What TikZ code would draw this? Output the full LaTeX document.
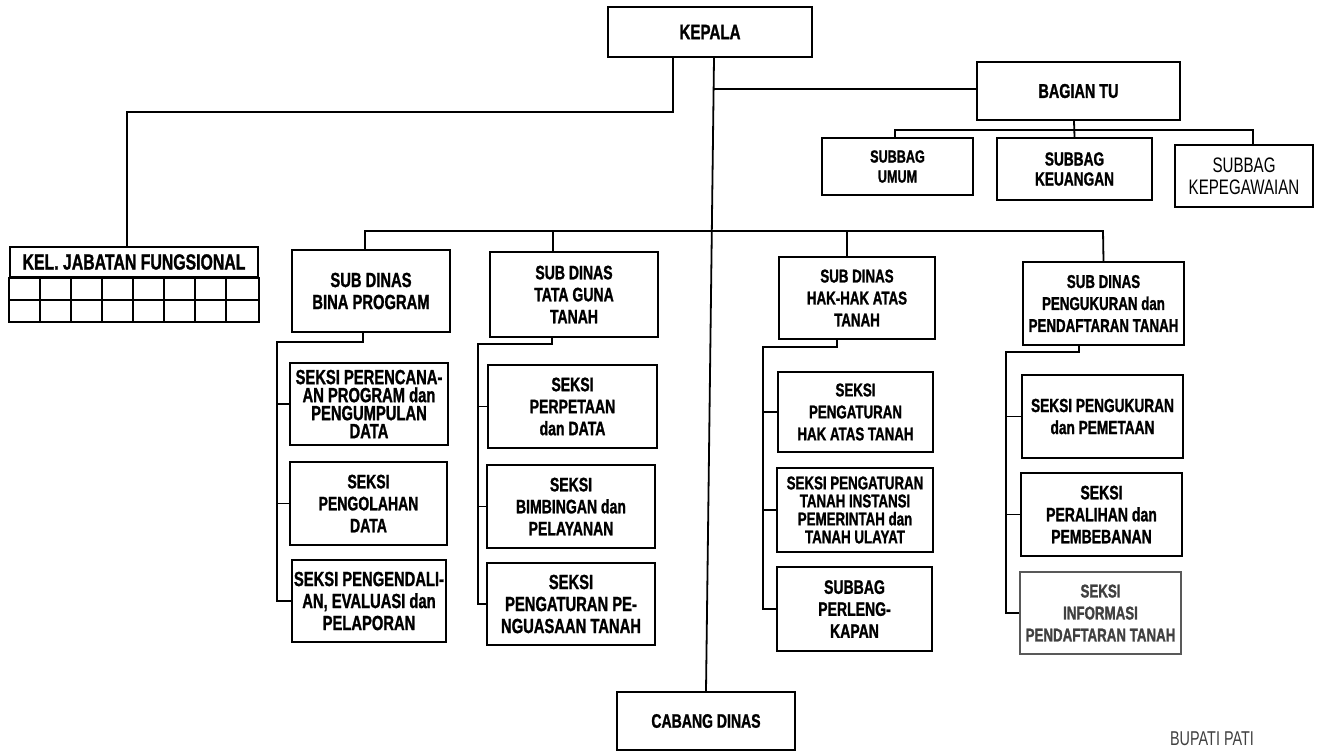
\documentclass[tikz,border=0pt]{standalone}
\usepackage{fontspec}
\setmainfont{Liberation Sans}[FakeStretch=0.72, BoldFeatures={FakeBold=1.2}]
\usetikzlibrary{calc}

% type sizes used in the chart
\newcommand\orgsize[2]{\bfseries\fontsize{#1}{#2}\selectfont}

\tikzset{
  box/.style={draw, line width=2.2pt, fill=white, align=center, inner sep=1pt, font=\orgsize{19.5}{22}},
  bigtext/.style={font=\orgsize{20.5}{18}},
  bigtextloose/.style={font=\orgsize{20.5}{22}},
  smalltext/.style={font=\orgsize{18.5}{22}},
  fourline/.style={font=\orgsize{18.5}{18}},
  plainbox/.style={line width=1.6pt, font=\mdseries\fontsize{21}{22}\selectfont},
  fadedbox/.style={line width=1.4pt, draw=black!65, text=black!75},
  conn/.style={line width=1.8pt, line join=miter},
}

% box given by its corners: [style] name x1 y1 x2 y2 text
\newcommand\orgbox[7][]{%
  \pgfmathsetmacro\obcx{(#3+#5)/2}%
  \pgfmathsetmacro\obcy{(#4+#6)/2}%
  \pgfmathsetmacro\obw{#5-#3}%
  \pgfmathsetmacro\obh{#6-#4}%
  \node[box, minimum width=\obw pt, minimum height=\obh pt, #1] (#2) at (\obcx,\obcy) {#7};}

\begin{document}
\begin{tikzpicture}[x=1pt, y=-1pt]
\useasboundingbox (0,0) rectangle (1322,753);

% --- top level ---
\orgbox[font=\orgsize{21}{22}]{kepala}{608}{7}{812}{57}{KEPALA}
\orgbox[font=\orgsize{20}{22}]{bagian}{977}{62}{1180}{120}{BAGIAN TU}
\orgbox[font=\orgsize{17.5}{20}]{umum}{822}{138}{973}{195}{SUBBAG\\UMUM}
\orgbox[font=\orgsize{19}{20}]{keuangan}{997}{138}{1152}{200}{SUBBAG\\KEUANGAN}
\orgbox[plainbox]{kepeg}{1175}{145}{1313}{207}{SUBBAG\\KEPEGAWAIAN}

% --- functional group with its grid ---
\orgbox[font=\orgsize{22}{22}]{kel}{10}{247}{258}{277}{KEL. JABATAN FUNGSIONAL}
\draw[line width=2pt] (kel.south west) rectangle ($(kel.south east)+(0,44)$);
\draw[line width=1.8pt] ($(kel.south west)+(0,22)$) -- ($(kel.south east)+(0,22)$);
\foreach \k in {1,...,7}
  \draw[line width=1.8pt] ($(kel.south west)+(31*\k,0)$) -- ++(0,44);

% --- sub dinas heads ---
\orgbox[bigtextloose]{bina}{292}{250}{450}{332}{SUB DINAS\\BINA PROGRAM}
\orgbox{tata}{490}{252}{658}{337}{SUB DINAS\\TATA GUNA\\TANAH}
\orgbox[smalltext]{hak}{779}{257}{935}{339}{SUB DINAS\\HAK-HAK ATAS\\TANAH}
\orgbox[smalltext]{peng}{1023}{262}{1184}{345}{SUB DINAS\\PENGUKURAN dan\\PENDAFTARAN TANAH}

% --- sections under Bina Program ---
\orgbox[bigtext]{bp1}{290}{363}{448}{445}{SEKSI PERENCANA-\\AN PROGRAM dan\\PENGUMPULAN\\DATA}
\orgbox{bp2}{290}{462}{447}{545}{SEKSI\\PENGOLAHAN\\DATA}
\orgbox[bigtextloose]{bp3}{292}{560}{446}{642}{SEKSI PENGENDALI-\\AN, EVALUASI dan\\PELAPORAN}

% --- sections under Tata Guna Tanah ---
\orgbox{tg1}{488}{365}{657}{448}{SEKSI\\PERPETAAN\\dan DATA}
\orgbox{tg2}{487}{465}{655}{548}{SEKSI\\BIMBINGAN dan\\PELAYANAN}
\orgbox[bigtextloose]{tg3}{487}{563}{655}{645}{SEKSI\\PENGATURAN PE-\\NGUASAAN TANAH}

% --- sections under Hak-Hak Atas Tanah ---
\orgbox[smalltext]{hk1}{778}{372}{933}{452}{SEKSI\\PENGATURAN\\HAK ATAS TANAH}
\orgbox[fourline]{hk2}{777}{468}{933}{552}{SEKSI PENGATURAN\\TANAH INSTANSI\\PEMERINTAH dan\\TANAH ULAYAT}
\orgbox{hk3}{777}{567}{932}{651}{SUBBAG\\PERLENG-\\KAPAN}

% --- sections under Pengukuran dan Pendaftaran Tanah ---
\orgbox[font=\orgsize{19}{22}]{pk1}{1022}{375}{1183}{458}{SEKSI PENGUKURAN\\dan PEMETAAN}
\orgbox{pk2}{1021}{473}{1182}{556}{SEKSI\\PERALIHAN dan\\PEMBEBANAN}
\orgbox[fadedbox, smalltext]{pk3}{1020}{572}{1181}{654}{SEKSI\\INFORMASI\\PENDAFTARAN TANAH}

% --- branch office ---
\orgbox{cabang}{617}{692}{795}{750}{CABANG DINAS}

% --- connectors ---
\draw[conn] (kepala.south -| 673,0) -- (673,112) -| (kel.north -| 127,0);
\draw[conn] (kepala.south -| 714,0) -- (cabang.north);
\coordinate (tujunction) at (713.5,89);
\draw[conn] (tujunction) -- (bagian.west |- tujunction);

\draw[conn] (bagian.south -| 1074,0) -- (keuangan.north);
\draw[conn] (umum.north -| 895,0) -- (895,130) -- (1253,130) -- (kepeg.north -| 1253,0);

\draw[conn] (bina.north -| 365,0) -- (365,231) -- (1103,231) -- (peng.north);
\draw[conn] (553,231) -- (tata.north -| 553,0);
\draw[conn] (847,231) -- (hak.north -| 847,0);

\draw[conn] (bina.south -| 363,0) -- (363,342) -| (277,0 |- bp3.west) -- (bp3.west);
\draw[conn] (277,0 |- bp1.west) -- (bp1.west);
\draw[conn] (277,0 |- bp2.west) -- (bp2.west);

\draw[conn] (tata.south -| 552,0) -- (552,344) -| (478,0 |- tg3.west) -- (tg3.west);
\draw[conn] (478,0 |- tg1.west) -- (tg1.west);
\draw[conn] (478,0 |- tg2.west) -- (tg2.west);

\draw[conn] (hak.south -| 837,0) -- (837,347) -| (763,0 |- hk3.west) -- (hk3.west);
\draw[conn] (763,0 |- hk1.west) -- (hk1.west);
\draw[conn] (763,0 |- hk2.west) -- (hk2.west);

\draw[conn] (peng.south -| 1079,0) -- (1079,352) -| (1006,0 |- pk3.west) -- (pk3.west);
\draw[conn] (1006,0 |- pk1.west) -- (pk1.west);
\draw[conn] (1006,0 |- pk2.west) -- (pk2.west);

% signature line at the foot of the page
\node[font=\mdseries\fontsize{20}{21}\selectfont, text=black!75, anchor=south, inner sep=1pt] (sign) at (1212,747) {BUPATI PATI};
\end{tikzpicture}
\end{document}
